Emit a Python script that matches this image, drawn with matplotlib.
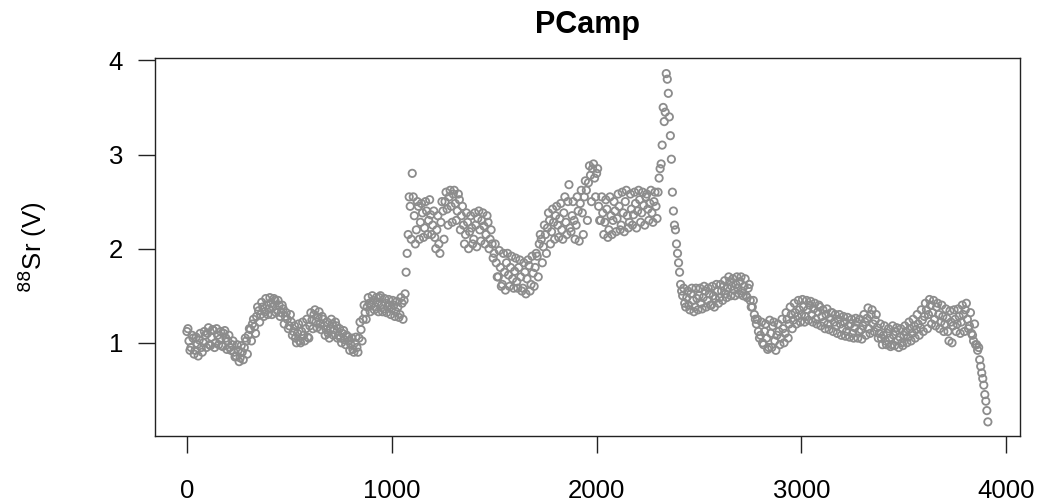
import numpy as np
import matplotlib
matplotlib.use('Agg')
import matplotlib.pyplot as plt

plt.rcParams['font.family'] = ['Liberation Sans', 'DejaVu Sans']

# 88Sr signal (V), read every 10 points along the scan (index 0 .. 3910)
step = 10
sr88 = [
    1.12, 1.02, 0.95, 1.05, 0.92, 0.98, 1.03, 0.95, 1.00, 1.08,
    1.10, 0.98, 1.06, 1.13, 1.00, 1.08, 1.04, 0.97, 1.10, 1.05,
    1.02, 0.95, 0.98, 0.90, 0.86, 0.92, 0.84, 0.90, 0.95, 1.02,
    1.08, 1.14, 1.20, 1.17, 1.28, 1.34, 1.30, 1.38, 1.33, 1.40,
    1.36, 1.42, 1.38, 1.45, 1.35, 1.40, 1.32, 1.36, 1.28, 1.25,
    1.18, 1.22, 1.12, 1.05, 1.10, 1.02, 1.12, 1.08, 1.15, 1.06,
    1.18, 1.24, 1.30, 1.22, 1.27, 1.20, 1.28, 1.18, 1.14, 1.10,
    1.15, 1.20, 1.14, 1.18, 1.08, 1.05, 1.10, 1.03, 1.08, 1.02,
    0.98, 0.93, 1.00, 0.95, 1.05, 1.14, 1.25, 1.32, 1.38, 1.42,
    1.40, 1.45, 1.38, 1.43, 1.48, 1.40, 1.36, 1.42, 1.38, 1.40,
    1.36, 1.40, 1.33, 1.38, 1.30, 1.42, 1.45, 1.75, 2.15, 2.45,
    2.80, 2.35, 2.20, 2.45, 2.28, 2.38, 2.22, 2.40, 2.30, 2.36,
    2.25, 2.12, 2.20, 2.05, 2.28, 2.40, 2.50, 2.42, 2.55, 2.45,
    2.58, 2.48, 2.40, 2.52, 2.35, 2.25, 2.15, 2.28, 2.18, 2.22,
    2.10, 2.25, 2.32, 2.20, 2.30, 2.24, 2.15, 2.28, 2.10, 2.05,
    1.95, 1.85, 1.70, 1.80, 1.62, 1.75, 1.85, 1.72, 1.80, 1.68,
    1.76, 1.65, 1.80, 1.70, 1.58, 1.75, 1.68, 1.82, 1.62, 1.74,
    1.80, 1.92, 2.05, 2.10, 2.02, 2.15, 2.22, 2.30, 2.18, 2.28,
    2.35, 2.25, 2.32, 2.20, 2.38, 2.28, 2.50, 2.22, 2.35, 2.30,
    2.25, 2.40, 2.48, 2.38, 2.55, 2.62, 2.70, 2.78, 2.85, 2.75,
    2.80, 2.45, 2.30, 2.38, 2.28, 2.42, 2.20, 2.35, 2.30, 2.40,
    2.32, 2.45, 2.25, 2.38, 2.50, 2.35, 2.28, 2.42, 2.36, 2.48,
    2.40, 2.52, 2.38, 2.46, 2.55, 2.42, 2.48, 2.38, 2.50, 2.45,
    2.60, 2.85, 3.10, 3.35, 3.86, 3.65, 3.20, 2.60, 2.25, 2.05,
    1.85, 1.62, 1.50, 1.42, 1.48, 1.40, 1.52, 1.45, 1.38, 1.47,
    1.50, 1.42, 1.48, 1.55, 1.45, 1.52, 1.40, 1.50, 1.47, 1.55,
    1.48, 1.55, 1.60, 1.52, 1.58, 1.65, 1.60, 1.56, 1.62, 1.58,
    1.65, 1.55, 1.60, 1.50, 1.58, 1.45, 1.38, 1.30, 1.20, 1.12,
    1.08, 1.00, 1.12, 1.05, 0.95, 1.10, 1.18, 1.02, 1.08, 1.12,
    1.05, 1.15, 1.10, 1.25, 1.20, 1.30, 1.24, 1.32, 1.28, 1.35,
    1.30, 1.38, 1.28, 1.35, 1.40, 1.30, 1.36, 1.25, 1.33, 1.38,
    1.28, 1.22, 1.30, 1.20, 1.26, 1.32, 1.22, 1.18, 1.25, 1.20,
    1.15, 1.22, 1.12, 1.18, 1.20, 1.10, 1.16, 1.22, 1.12, 1.14,
    1.18, 1.22, 1.26, 1.15, 1.30, 1.20, 1.24, 1.16, 1.10, 1.05,
    1.08, 1.02, 1.10, 1.05, 0.98, 1.08, 1.12, 1.03, 1.06, 1.00,
    1.08, 1.12, 1.06, 1.15, 1.10, 1.18, 1.14, 1.20, 1.16, 1.24,
    1.28, 1.35, 1.30, 1.40, 1.32, 1.25, 1.38, 1.30, 1.22, 1.28,
    1.20, 1.26, 1.02, 1.22, 1.18, 1.25, 1.20, 1.28, 1.22, 1.30,
    1.35, 1.25, 1.18, 1.10, 1.02, 0.98, 0.92, 0.82, 0.68, 0.55,
    0.38, 0.16,
]

# readings near the upper edge of the cloud (index 5, 25, 45, ...)
sr88_upper = [
    1.15, 1.08, 1.06, 1.10, 1.12,  1.16, 1.14, 1.15, 1.12, 1.13,
    1.08, 1.02, 0.98, 0.97, 1.05,  1.15, 1.25, 1.38, 1.43, 1.47,
    1.48, 1.47, 1.45, 1.40, 1.32,  1.30, 1.18, 1.20, 1.22, 1.25,
    1.32, 1.35, 1.33, 1.25, 1.22,  1.25, 1.22, 1.15, 1.13, 1.06,
    1.05, 1.06, 1.22, 1.40, 1.48,  1.50, 1.48, 1.50, 1.47, 1.46,
    1.45, 1.44, 1.48, 1.52, 2.55,  2.55, 2.50, 2.48, 2.50, 2.52,
    2.40, 2.35, 2.50, 2.60, 2.62,  2.62, 2.58, 2.45, 2.38, 2.35,
    2.38, 2.40, 2.38, 2.35, 2.20,  2.05, 1.98, 1.95, 1.95, 1.92,
    1.90, 1.88, 1.85, 1.88, 1.92,  1.95, 2.15, 2.25, 2.38, 2.42,
    2.45, 2.48, 2.55, 2.68, 2.50,  2.55, 2.62, 2.72, 2.88, 2.90,
    2.85, 2.55, 2.52, 2.55, 2.50,  2.58, 2.60, 2.62, 2.58, 2.60,
    2.62, 2.60, 2.58, 2.62, 2.60,  2.75, 3.50, 3.80, 2.95, 2.20,
    1.75, 1.58, 1.55, 1.58, 1.58,  1.58, 1.60, 1.58, 1.60, 1.62,
    1.62, 1.66, 1.70, 1.68, 1.70,  1.70, 1.68, 1.62, 1.45, 1.25,
    1.22, 1.20, 1.24, 1.22, 1.20,  1.25, 1.32, 1.38, 1.42, 1.45,
    1.46, 1.45, 1.44, 1.42, 1.40,  1.35, 1.36, 1.32, 1.30, 1.30,
    1.28, 1.27, 1.25, 1.26, 1.25,  1.30, 1.37, 1.35, 1.30, 1.20,
    1.18, 1.15, 1.18, 1.16, 1.15,  1.18, 1.22, 1.25, 1.30, 1.35,
    1.42, 1.46, 1.45, 1.42, 1.40,  1.36, 1.34, 1.35, 1.36, 1.40,
    1.42, 1.32, 1.20, 0.95, 0.62,  0.28,
]

# readings near the lower edge of the cloud (index 15, 35, 55, ...)
sr88_lower = [
    0.92, 0.88, 0.86, 0.90, 0.95,  0.97, 0.95, 0.98, 0.96, 0.93,
    0.92, 0.85, 0.80, 0.82, 0.88,  1.02, 1.10, 1.22, 1.28, 1.30,
    1.30, 1.32, 1.28, 1.20, 1.15,  1.08, 1.00, 1.00, 1.02, 1.05,
    1.15, 1.16, 1.14, 1.08, 1.05,  1.08, 1.05, 1.00, 0.98, 0.92,
    0.90, 0.90, 1.02, 1.25, 1.33,  1.35, 1.33, 1.33, 1.32, 1.30,
    1.28, 1.27, 1.25, 1.95, 2.10,  2.05, 2.10, 2.12, 2.15, 2.15,
    2.00, 1.95, 2.10, 2.25, 2.28,  2.30, 2.20, 2.05, 2.00, 2.05,
    2.02, 2.08, 2.05, 2.00, 1.90,  1.70, 1.60, 1.56, 1.60, 1.58,
    1.58, 1.55, 1.52, 1.55, 1.60,  1.70, 1.85, 1.95, 2.05, 2.10,
    2.12, 2.10, 2.15, 2.18, 2.10,  2.08, 2.15, 2.30, 2.50, 2.55,
    2.30, 2.15, 2.12, 2.15, 2.18,  2.20, 2.18, 2.22, 2.25, 2.22,
    2.28, 2.25, 2.30, 2.28, 2.32,  2.90, 3.45, 3.40, 2.40, 1.95,
    1.55, 1.38, 1.35, 1.33, 1.35,  1.36, 1.38, 1.40, 1.38, 1.42,
    1.45, 1.48, 1.50, 1.50, 1.52,  1.50, 1.48, 1.38, 1.25, 1.05,
    0.98, 0.93, 0.95, 0.92, 0.98,  1.00, 1.05, 1.15, 1.20, 1.22,
    1.22, 1.24, 1.22, 1.20, 1.18,  1.15, 1.14, 1.12, 1.10, 1.08,
    1.07, 1.06, 1.05, 1.05, 1.04,  1.08, 1.10, 1.12, 1.05, 0.98,
    0.98, 0.96, 0.97, 0.95, 0.97,  1.00, 1.02, 1.05, 1.08, 1.12,
    1.15, 1.20, 1.18, 1.15, 1.12,  1.12, 1.00, 1.12, 1.10, 1.12,
    1.15, 1.08, 0.98, 0.75, 0.45,
]

idx = np.arange(len(sr88)) * step
idx_upper = np.arange(len(sr88_upper)) * 20 + 5
idx_lower = np.arange(len(sr88_lower)) * 20 + 15

xticks = [0, 1000, 2000, 3000, 4000]
yticks = [1, 2, 3, 4]
point_color = '#8c8c8c'

fig = plt.figure(figsize=(10.4, 5.03), dpi=100)
ax = fig.add_axes([0.149, 0.1332, 0.832, 0.7505])

for xs, ys in [(idx_upper, sr88_upper), (idx_lower, sr88_lower), (idx, sr88)]:
    ax.scatter(xs, ys, s=28, facecolors='none', edgecolors=point_color, linewidths=1.3)

ax.set_xlim(-156, 4068)
ax.set_ylim(0.01, 4.02)
ax.set_xticks(xticks)
ax.set_yticks(yticks)
ax.tick_params(direction='out', length=12, width=1, labelsize=18.5, color='#222222')
ax.tick_params(axis='x', pad=19)
ax.tick_params(axis='y', pad=11)
for s in ax.spines.values():
    s.set_linewidth(1)
    s.set_color('#222222')

ax.set_title('PCamp', fontsize=22, fontweight='bold', pad=18)
ax.set_ylabel(r'$^{88}$Sr (V)', fontsize=18.5)
ax.yaxis.set_label_coords(-0.122, 0.5)

fig.savefig('out.png', dpi=100)
